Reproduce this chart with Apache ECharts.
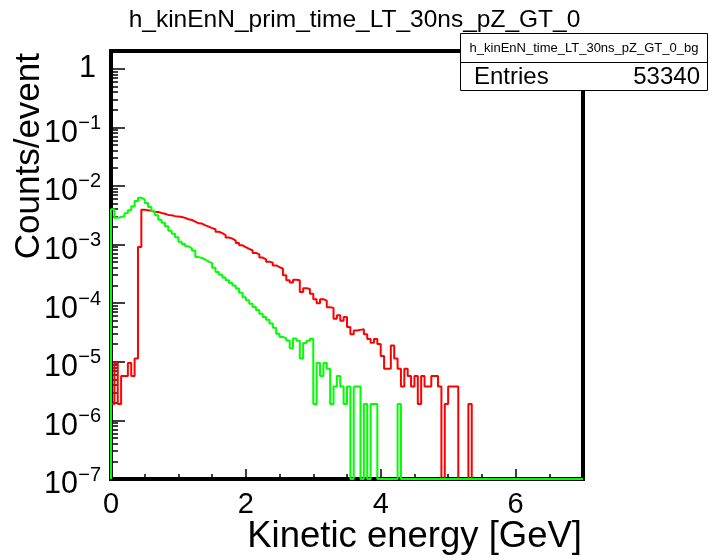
<!DOCTYPE html>
<html>
<head>
<meta charset="utf-8">
<title>h_kinEnN_prim_time_LT_30ns_pZ_GT_0</title>
<script src="https://cdn.jsdelivr.net/npm/echarts@6/dist/echarts.min.js"></script>
<style>
  html, body { margin: 0; padding: 0; background: #fff; }
  #chart { width: 709px; height: 560px; }
</style>
</head>
<body>
<div id="chart"></div>
<script>
const FONT = "'Liberation Sans', Arial, Helvetica, sans-serif";

// histogram: 140 bins of 0.05 GeV, 0..7 GeV
const binWidth = 0.05;
const xMin = 0, xMax = 7;
const yMin = 1e-7, yMax = 2;

// counts/event per bin (0 = empty bin)
const red = [
  1.9e-6, 9.5e-6, 1.9e-6, 5.7e-6, 5.7e-6, 9.5e-6, 5.7e-6, 1.14e-5, 9.1e-4, 3.9e-3,
  3.85e-3, 3.75e-3, 3.6e-3, 3.6e-3, 3.45e-3, 3.35e-3, 3.2e-3, 3.15e-3, 3.05e-3, 3.0e-3,
  2.95e-3, 2.85e-3, 2.7e-3, 2.62e-3, 2.45e-3, 2.3e-3, 2.28e-3, 2.12e-3, 2.02e-3, 1.9e-3,
  1.82e-3, 1.65e-3, 1.56e-3, 1.45e-3, 1.32e-3, 1.26e-3, 1.17e-3, 1.06e-3, 9.7e-4, 9.0e-4,
  8.4e-4, 8.0e-4, 7.2e-4, 6.8e-4, 6.0e-4, 5.6e-4, 5.1e-4, 4.9e-4, 4.4e-4, 4.1e-4,
  3.9e-4, 3.0e-4, 2.45e-4, 2.25e-4, 2.5e-4, 2.45e-4, 1.55e-4, 1.8e-4, 1.75e-4, 1.45e-4,
  1.17e-4, 1.0e-4, 1.17e-4, 1.1e-4, 8.5e-5, 8.3e-5, 5.4e-5, 6.2e-5, 5.0e-5, 5.8e-5,
  3.9e-5, 2.95e-5, 3.4e-5, 3.5e-5, 3.6e-5, 2.95e-5, 2.45e-5, 2.1e-5, 2.45e-5, 2.0e-5,
  1.25e-5, 7.6e-6, 7.6e-6, 1.9e-5, 1.14e-5, 7.6e-6, 3.8e-6, 7.6e-6, 5.7e-6, 3.8e-6,
  5.7e-6, 1.9e-6, 5.7e-6, 3.8e-6, 3.8e-6, 5.7e-6, 5.7e-6, 3.8e-6, 0, 1.9e-6,
  3.8e-6, 3.8e-6, 3.8e-6, 0, 0, 0, 1.9e-6, 0, 0, 0,
  0, 0, 0, 0, 0, 0, 0, 0, 0, 0,
  0, 0, 0, 0, 0, 0, 0, 0, 0, 0,
  0, 0, 0, 0, 0, 0, 0, 0, 0, 0
];

const green = [
  4.0e-3, 2.85e-3, 2.95e-3, 3.05e-3, 3.4e-3, 3.85e-3, 4.5e-3, 5.5e-3, 6.3e-3, 5.9e-3,
  5.1e-3, 4.35e-3, 3.7e-3, 3.15e-3, 2.65e-3, 2.35e-3, 2.05e-3, 1.72e-3, 1.52e-3, 1.33e-3,
  1.12e-3, 1.02e-3, 9.3e-4, 8.6e-4, 7.9e-4, 6.1e-4, 5.9e-4, 5.5e-4, 5.1e-4, 4.8e-4,
  4.0e-4, 3.4e-4, 3.05e-4, 2.75e-4, 2.45e-4, 2.2e-4, 2.0e-4, 1.78e-4, 1.5e-4, 1.26e-4,
  1.12e-4, 9.8e-5, 8.6e-5, 7.6e-5, 6.6e-5, 5.8e-5, 5.2e-5, 4.5e-5, 3.8e-5, 3.0e-5,
  2.65e-5, 2.5e-5, 2.3e-5, 1.7e-5, 2.5e-5, 2.28e-5, 1.14e-5, 2.09e-5, 2.28e-5, 2.47e-5,
  1.9e-6, 9.5e-6, 5.7e-6, 9.5e-6, 7.6e-6, 1.9e-6, 3.8e-6, 5.7e-6, 3.8e-6, 1.9e-6,
  3.8e-6, 0, 3.8e-6, 3.8e-6, 0, 1.9e-6, 0, 1.9e-6, 1.9e-6, 0,
  0, 0, 0, 0, 0, 1.9e-6, 0, 0, 0, 0,
  0, 0, 0, 0, 0, 0, 0, 0, 0, 0,
  0, 0, 0, 0, 0, 0, 0, 0, 0, 0,
  0, 0, 0, 0, 0, 0, 0, 0, 0, 0,
  0, 0, 0, 0, 0, 0, 0, 0, 0, 0,
  0, 0, 0, 0, 0, 0, 0, 0, 0, 0
];

const xMajorTicks = [0, 2, 4, 6];
const xMinorTicks = [0.5, 1, 1.5, 2.5, 3, 3.5, 4.5, 5, 5.5, 6.5];
const yDecades = [1e-7, 1e-6, 1e-5, 1e-4, 1e-3, 1e-2, 1e-1, 1];
const yPowerLabels = [1e-7, 1e-6, 1e-5, 1e-4, 1e-3, 1e-2, 1e-1];
const yUnitLabel = [1];
const yMinorSteps = [2, 3, 4, 5, 6, 7, 8, 9];
const yMinorTicks = yDecades.slice(0, -1).flatMap((d) => yMinorSteps.map((m) => m * d));

const histTitle = "h_kinEnN_prim_time_LT_30ns_pZ_GT_0";
const xTitle = "Kinetic energy [GeV]";
const yTitle = "Counts/event";
const statsName = "h_kinEnN_time_LT_30ns_pZ_GT_0_bg";
const statsEntries = "53340";

// ROOT style step outline; empty bins sit on the bottom of the frame
function histLine(values) {
  const pts = [[xMin, yMin]];
  values.forEach((v, i) => pts.push([i * binWidth, v > 0 ? v : yMin]));
  const last = values[values.length - 1];
  pts.push([xMax, last > 0 ? last : yMin]);
  return pts;
}

const tickStyle = { color: "#000", width: 1.5 };
const noLine = { show: false };

const chart = echarts.init(document.getElementById("chart"), null, { renderer: "canvas" });

chart.setOption({
  animation: false,
  backgroundColor: "#fff",
  textStyle: { fontFamily: FONT },
  title: {
    text: histTitle,
    left: "center",
    top: 3,
    textStyle: { fontSize: 24.5, fontWeight: "normal", color: "#000", fontFamily: FONT },
  },
  grid: {
    left: 111, right: 126, top: 51, bottom: 81,
    show: true, borderColor: "#000", borderWidth: 4,
    containLabel: false, outerBoundsMode: "none",
  },
  xAxis: [
    {
      type: "value", position: "bottom", min: xMin, max: xMax,
      axisLine: noLine, splitLine: noLine,
      axisTick: { show: true, inside: true, length: 10, customValues: xMajorTicks, lineStyle: tickStyle },
      axisLabel: { customValues: xMajorTicks, fontSize: 29, color: "#000", margin: 11, fontFamily: FONT },
    },
    {
      type: "value", position: "bottom", min: xMin, max: xMax,
      axisLine: noLine, splitLine: noLine,
      axisTick: { show: true, inside: true, length: 5, customValues: xMinorTicks, lineStyle: tickStyle },
      axisLabel: { show: false },
    },
  ],
  yAxis: [
    {
      // major decades, "10" mantissa
      type: "log", logBase: 10, position: "left", min: yMin, max: yMax,
      axisLine: noLine, splitLine: noLine,
      axisTick: { show: true, inside: true, length: 14, customValues: yDecades, lineStyle: tickStyle },
      axisLabel: {
        customValues: yPowerLabels,
        formatter: () => "10",
        fontSize: 30.5, color: "#000", fontFamily: FONT,
        margin: 33, verticalAlign: "top", lineHeight: 12,
      },
    },
    {
      // minor ticks, exponents
      type: "log", logBase: 10, position: "left", min: yMin, max: yMax,
      axisLine: noLine, splitLine: noLine,
      axisTick: { show: true, inside: true, length: 7, customValues: yMinorTicks, lineStyle: tickStyle },
      axisLabel: {
        customValues: yPowerLabels,
        formatter: (v) => "\u2212" + (-Math.round(Math.log10(v))),
        fontSize: 20, color: "#000", fontFamily: FONT,
        margin: 10, verticalAlign: "bottom", lineHeight: 8,
      },
    },
    {
      type: "log", logBase: 10, position: "left", min: yMin, max: yMax,
      axisLine: noLine, splitLine: noLine,
      axisTick: { show: false },
      axisLabel: {
        customValues: yUnitLabel,
        formatter: () => "1",
        fontSize: 30.5, color: "#000", fontFamily: FONT,
        margin: 15,
      },
    },
  ],
  series: [
    {
      name: "prim", type: "line", step: "end",
      xAxisIndex: 0, yAxisIndex: 0,
      data: histLine(red),
      symbol: "none", showSymbol: false,
      lineStyle: { color: "#ff0000", width: 2 },
      itemStyle: { color: "#ff0000" },
    },
    {
      name: "bg", type: "line", step: "end",
      xAxisIndex: 0, yAxisIndex: 0,
      data: histLine(green),
      symbol: "none", showSymbol: false,
      lineStyle: { color: "#00ff00", width: 2 },
      itemStyle: { color: "#00ff00" },
    },
  ],
  graphic: [
    {
      type: "text", x: 29, y: 53, rotation: Math.PI / 2,
      style: {
        text: yTitle, fontSize: 35, fontFamily: FONT, fill: "#000",
        align: "right", textAlign: "right", verticalAlign: "middle", textVerticalAlign: "middle",
      },
    },
    {
      type: "text", x: 582, y: 537,
      style: {
        text: xTitle, fontSize: 36.5, fontFamily: FONT, fill: "#000",
        align: "right", textAlign: "right", verticalAlign: "middle", textVerticalAlign: "middle",
      },
    },
    {
      type: "group", z: 100,
      children: [
        {
          type: "rect",
          shape: { x: 460.5, y: 33.5, width: 247, height: 57 },
          style: { fill: "#fff", stroke: "#000", lineWidth: 1 },
        },
        {
          type: "line",
          shape: { x1: 460.5, y1: 62.5, x2: 707.5, y2: 62.5 },
          style: { stroke: "#000", lineWidth: 1 },
        },
        {
          type: "text", x: 584, y: 48,
          style: {
            text: statsName, fontSize: 13, fontFamily: FONT, fill: "#000",
            align: "center", textAlign: "center", verticalAlign: "middle", textVerticalAlign: "middle",
          },
        },
        {
          type: "text", x: 474, y: 77,
          style: {
            text: "Entries", fontSize: 24, fontFamily: FONT, fill: "#000",
            align: "left", textAlign: "left", verticalAlign: "middle", textVerticalAlign: "middle",
          },
        },
        {
          type: "text", x: 700, y: 77,
          style: {
            text: statsEntries, fontSize: 24, fontFamily: FONT, fill: "#000",
            align: "right", textAlign: "right", verticalAlign: "middle", textVerticalAlign: "middle",
          },
        },
      ],
    },
  ],
});

window.addEventListener("resize", () => chart.resize());
</script>
</body>
</html>
